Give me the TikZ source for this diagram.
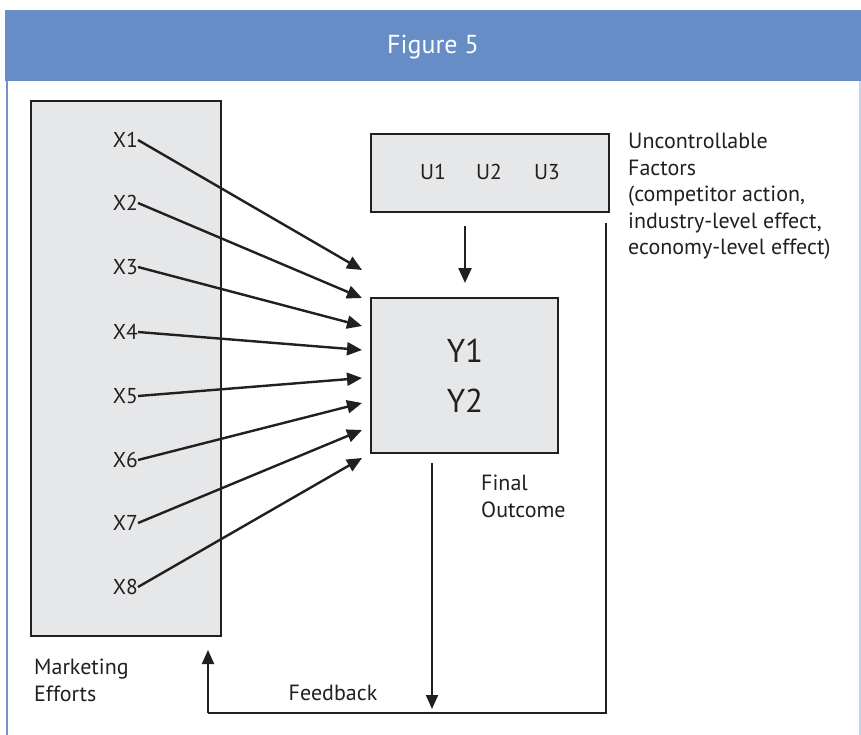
\documentclass[tikz,border=0pt]{standalone}
\usepackage{fontspec}
\setmainfont{PT Sans}
\usetikzlibrary{arrows.meta}
\definecolor{headblue}{RGB}{102,141,198}
\definecolor{frameblue}{RGB}{110,148,204}
\definecolor{framelight}{RGB}{196,210,234}
\definecolor{boxgray}{RGB}{230,231,232}
\definecolor{ink}{RGB}{35,31,32}
\tikzset{
  panel/.style={draw=ink, line width=2.5pt, fill=boxgray},
  lbl/.style={inner sep=0pt, text=ink, font=\fontsize{21.5}{26.5}\selectfont},
  multilbl/.style={lbl, align=left, anchor=north west, font=\fontsize{22}{26.5}\selectfont},
  flow/.style={draw=ink, line width=2.4pt, -{Triangle[length=15pt,width=13pt]}},
  thinflow/.style={draw=ink, line width=2pt, -{Triangle[length=14pt,width=12pt]}},
  loopline/.style={draw=ink, line width=2pt}
}
\begin{document}
\begin{tikzpicture}[x=1pt,y=-1pt]
\useasboundingbox (0,0) rectangle (861,735);
% frame and title band
\fill[white] (0,0) rectangle (861,735);
\draw[framelight, line width=1.5pt] (860,80) -- (860,735);
\draw[frameblue, line width=2pt] (7,80) -- (7,735);
\fill[headblue] (5,10) rectangle (861,81);
\node[text=white, font=\fontsize{26}{30}\selectfont] (title) at (433,47) {Figure 5};

% boxes
\draw[panel] (31,101) rectangle (221,636);
\draw[panel] (371,134) rectangle (609,212);
\draw[panel] (371,298) rectangle (558,453);

% marketing effort variables
\foreach \i/\y in {1/140,2/203,3/267,4/332,5/396,6/460,7/523,8/587}{
  \node[lbl, anchor=east] (x\i) at (138,\y) {X\i};
}
% arrow tips in front of the outcome box
\foreach \i/\y in {1/270,2/298,3/326,4/350,5/378,6/403,7/430,8/458}{
  \coordinate (t\i) at (362,\y);
}
\foreach \i in {1,...,8}{
  \draw[flow] (x\i.east) -- (t\i);
}

% uncontrollable factors
\node[lbl] (u1) at (433,172) {U1};
\node[lbl] (u2) at (489,172) {U2};
\node[lbl] (u3) at (547,172) {U3};
\coordinate (ua) at (465,226);
\coordinate (ub) at (465,283);
\draw[flow] (ua) -- (ub);

% outcomes
\node[text=ink, inner sep=0pt, font=\fontsize{33}{40}\selectfont] (y1) at (465,351) {Y1};
\node[text=ink, inner sep=0pt, font=\fontsize{33}{40}\selectfont] (y2) at (465,401) {Y2};

% feedback loop
\coordinate (da) at (432,463);
\coordinate (db) at (432,709);
\draw[thinflow] (da) -- (db);
\coordinate (ra) at (606,223);
\coordinate (rb) at (606,713);
\coordinate (lb) at (208,713);
\coordinate (la) at (208,650);
\draw[loopline] (ra) -- (rb) -- (lb);
\draw[thinflow] (lb) -- (la);

% captions
\node[multilbl] (unc) at (628,133) {Uncontrollable\\Factors\\(competitor action,\\industry-level effect,\\economy-level effect)};
\node[multilbl] (fin) at (481,475) {Final\\Outcome};
\node[multilbl] (mkt) at (34,659) {Marketing\\Efforts};
\node[lbl, font=\fontsize{22}{26.5}\selectfont] (fb) at (333,693) {Feedback};
\end{tikzpicture}
\end{document}
